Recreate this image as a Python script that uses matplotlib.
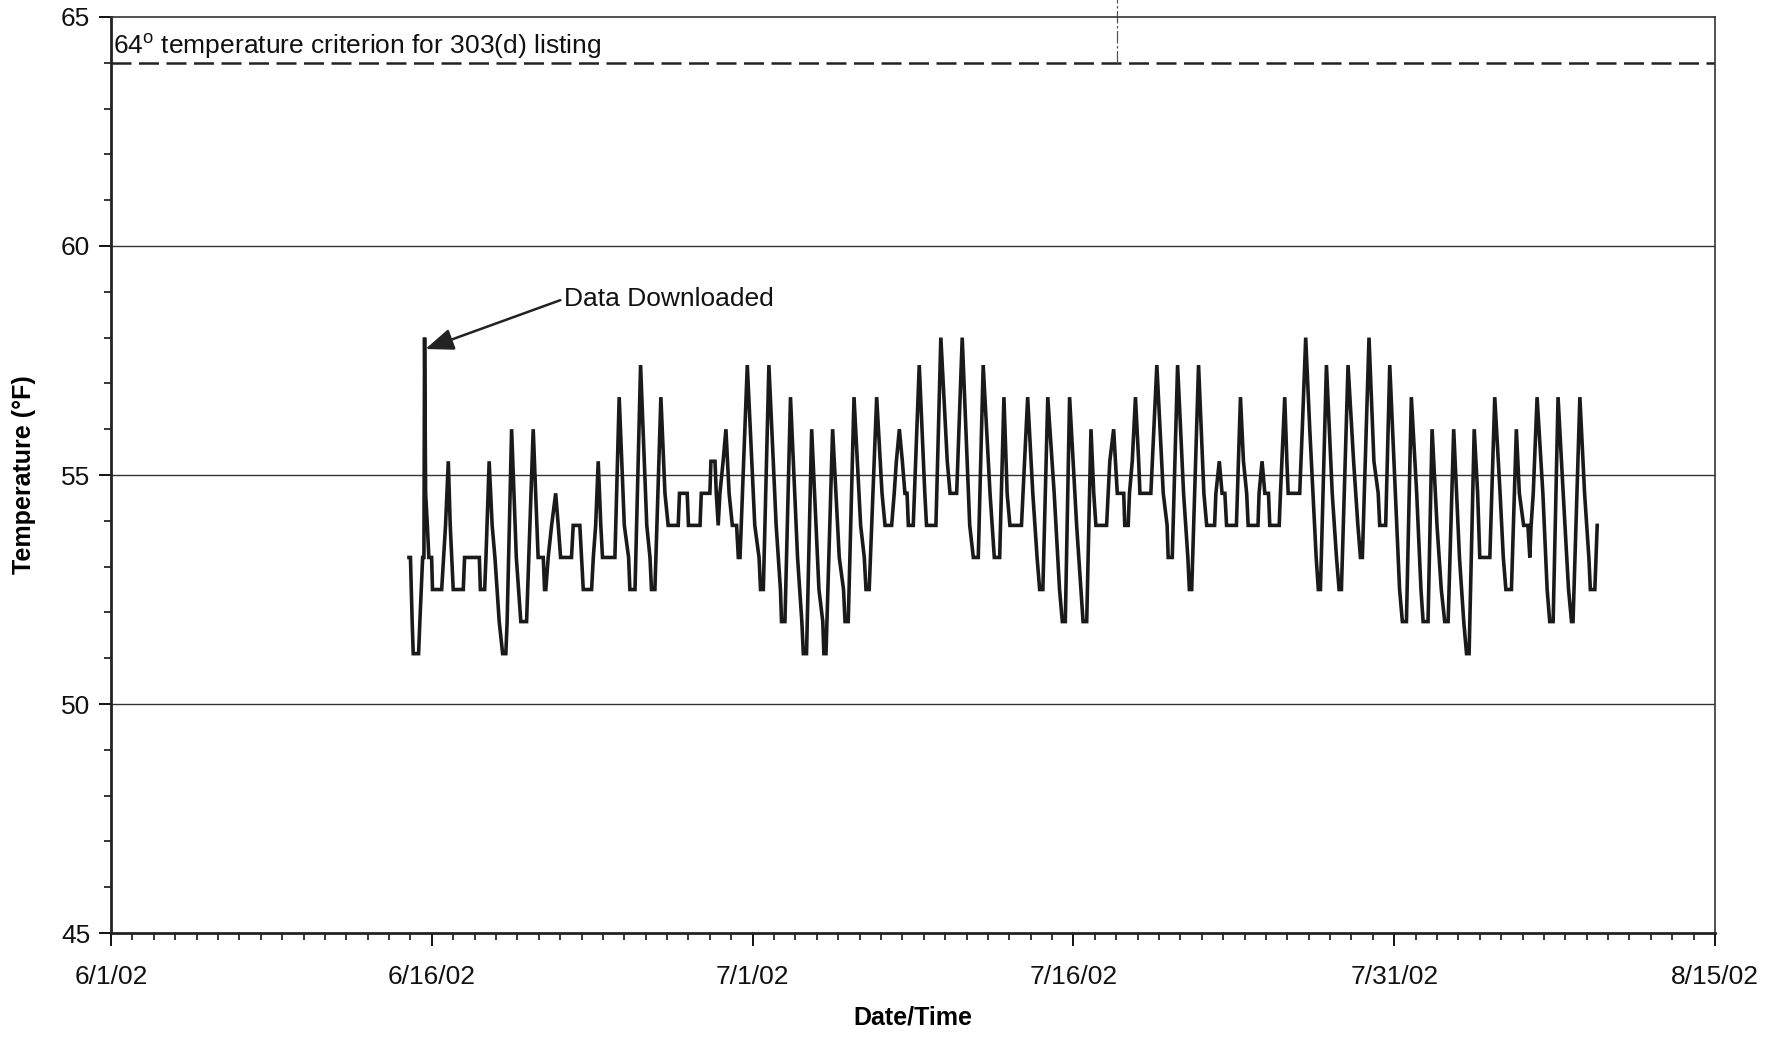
import matplotlib
matplotlib.use("Agg")
import matplotlib.pyplot as plt
import matplotlib.dates as mdates
from matplotlib.ticker import MultipleLocator, FuncFormatter, FixedLocator
from datetime import datetime, timedelta

# ---------------- data ----------------
START = datetime(2002, 6, 1)

# turning points of the logged temperature trace: days after 6/1/02, temperature (deg F)
day_offset = [
    13.93, 14.00, 14.08, 14.13, 14.38, 14.44, 14.57, 14.63, 14.66, 14.71, 14.79, 14.86,
    14.99, 15.03, 15.46, 15.55, 15.64, 15.77, 15.86, 15.93, 16.00, 16.47, 16.53, 17.22,
    17.27, 17.47, 17.53, 17.68, 17.82, 17.95, 18.15, 18.31, 18.46, 18.52, 18.73, 18.95,
    19.16, 19.43, 19.74, 19.97, 20.21, 20.27, 20.33, 20.44, 20.60, 20.79, 20.91, 21.02,
    21.53, 21.61, 21.92, 22.00, 22.08, 22.47, 22.55, 22.66, 22.78, 22.90, 22.98, 23.56,
    23.76, 24.00, 24.20, 24.26, 24.50, 24.76, 25.05, 25.20, 25.27, 25.43, 25.71, 25.90,
    26.05, 26.52, 26.58, 26.94, 27.00, 27.54, 27.60, 28.00, 28.05, 28.24, 28.30, 28.39,
    28.47, 28.62, 28.75, 28.90, 29.05, 29.25, 29.33, 29.41, 29.75, 30.10, 30.30, 30.37,
    30.50, 30.76, 31.10, 31.30, 31.35, 31.51, 31.77, 32.10, 32.30, 32.37, 32.52, 32.76,
    33.10, 33.28, 33.33, 33.43, 33.74, 34.05, 34.25, 34.32, 34.47, 34.74, 35.05, 35.22,
    35.30, 35.45, 35.80, 36.05, 36.19, 36.50, 36.62, 36.72, 36.86, 37.00, 37.12, 37.22,
    37.28, 37.51, 37.79, 38.05, 38.13, 38.57, 38.80, 39.10, 39.23, 39.54, 39.80, 40.15,
    40.32, 40.55, 40.78, 41.10, 41.30, 41.55, 41.75, 41.90, 42.03, 42.57, 42.86, 43.10,
    43.30, 43.42, 43.57, 43.80, 44.10, 44.35, 44.48, 44.62, 44.82, 45.15, 45.35, 45.45,
    45.62, 45.82, 45.95, 46.05, 46.55, 46.70, 46.88, 47.05, 47.35, 47.40, 47.56, 47.62,
    47.75, 47.90, 48.05, 48.11, 48.62, 48.90, 49.20, 49.38, 49.43, 49.62, 49.87, 50.15,
    50.35, 50.42, 50.53, 50.85, 51.10, 51.23, 51.60, 51.66, 51.82, 51.95, 52.08, 52.16,
    52.62, 52.81, 52.95, 53.10, 53.17, 53.63, 53.68, 53.82, 53.95, 54.12, 54.18, 54.62,
    54.68, 54.88, 54.98, 55.04, 55.58, 55.70, 55.86, 56.05, 56.35, 56.45, 56.55, 56.83,
    57.10, 57.30, 57.42, 57.53, 57.84, 58.10, 58.30, 58.42, 58.51, 58.82, 59.05, 59.25,
    59.32, 59.60, 59.79, 60.05, 60.25, 60.38, 60.57, 60.80, 61.05, 61.25, 61.35, 61.58,
    61.77, 62.00, 62.20, 62.36, 62.52, 62.78, 63.05, 63.25, 63.38, 63.50, 63.74, 63.90,
    64.00, 64.47, 64.70, 64.95, 65.10, 65.22, 65.48, 65.71, 65.85, 66.05, 66.25, 66.34,
    66.40, 66.50, 66.68, 66.95, 67.15, 67.27, 67.43, 67.66, 67.90, 68.15, 68.29, 68.36,
    68.68, 68.90, 69.10, 69.17, 69.38, 69.49,
]
temp_f = [
    53.2, 53.2, 51.8, 51.1, 51.1, 51.8, 53.2, 53.2, 58.0, 54.6, 53.9, 53.2,
    53.2, 52.5, 52.5, 53.2, 53.9, 55.3, 53.9, 53.2, 52.5, 52.5, 53.2, 53.2,
    52.5, 52.5, 53.2, 55.3, 53.9, 53.2, 51.8, 51.1, 51.1, 51.8, 56.0, 53.2,
    51.8, 51.8, 56.0, 53.2, 53.2, 52.5, 52.5, 53.2, 53.9, 54.6, 53.9, 53.2,
    53.2, 53.9, 53.9, 53.2, 52.5, 52.5, 53.2, 53.9, 55.3, 53.9, 53.2, 53.2,
    56.7, 53.9, 53.2, 52.5, 52.5, 57.4, 53.9, 53.2, 52.5, 52.5, 56.7, 54.6,
    53.9, 53.9, 54.6, 54.6, 53.9, 53.9, 54.6, 54.6, 55.3, 55.3, 54.6, 53.9,
    54.6, 55.3, 56.0, 54.6, 53.9, 53.9, 53.2, 53.2, 57.4, 53.9, 53.2, 52.5,
    52.5, 57.4, 53.9, 52.5, 51.8, 51.8, 56.7, 53.2, 51.8, 51.1, 51.1, 56.0,
    52.5, 51.8, 51.1, 51.1, 56.0, 53.2, 52.5, 51.8, 51.8, 56.7, 53.9, 53.2,
    52.5, 52.5, 56.7, 54.6, 53.9, 53.9, 54.6, 55.3, 56.0, 55.3, 54.6, 54.6,
    53.9, 53.9, 57.4, 54.6, 53.9, 53.9, 58.0, 55.3, 54.6, 54.6, 58.0, 53.9,
    53.2, 53.2, 57.4, 54.6, 53.2, 53.2, 56.7, 54.6, 53.9, 53.9, 56.7, 54.6,
    53.2, 52.5, 52.5, 56.7, 54.6, 52.5, 51.8, 51.8, 56.7, 53.9, 52.5, 51.8,
    51.8, 56.0, 54.6, 53.9, 53.9, 55.3, 56.0, 54.6, 54.6, 53.9, 53.9, 54.6,
    55.3, 56.7, 55.3, 54.6, 54.6, 57.4, 54.6, 53.9, 53.2, 53.2, 57.4, 54.6,
    53.2, 52.5, 52.5, 57.4, 54.6, 53.9, 53.9, 54.6, 55.3, 54.6, 54.6, 53.9,
    53.9, 56.7, 55.3, 54.6, 53.9, 53.9, 54.6, 55.3, 54.6, 54.6, 53.9, 53.9,
    54.6, 56.7, 55.3, 54.6, 54.6, 56.0, 58.0, 56.0, 53.2, 52.5, 52.5, 57.4,
    54.6, 53.2, 52.5, 52.5, 57.4, 55.3, 53.9, 53.2, 53.2, 58.0, 55.3, 54.6,
    53.9, 53.9, 57.4, 54.6, 52.5, 51.8, 51.8, 56.7, 54.6, 52.5, 51.8, 51.8,
    56.0, 53.9, 52.5, 51.8, 51.8, 56.0, 53.2, 51.8, 51.1, 51.1, 56.0, 54.6,
    53.2, 53.2, 56.7, 54.6, 53.2, 52.5, 52.5, 56.0, 54.6, 53.9, 53.9, 53.2,
    53.9, 54.6, 56.7, 54.6, 52.5, 51.8, 51.8, 56.7, 54.6, 52.5, 51.8, 51.8,
    56.7, 54.6, 53.2, 52.5, 52.5, 53.9,
]

criterion_f = 64
criterion_label = "64$^{\\mathrm{o}}$ temperature criterion for 303(d) listing"
download_day = 14.70        # day offset of the "Data Downloaded" spike
download_label = "Data Downloaded"
x_tick_days = [0, 15, 30, 45, 60, 75]
y_ticks = [45, 50, 55, 60, 65]
marker_day = 47.03          # thin vertical mark above the criterion line

# ---------------- plot ----------------
FONT = ["Liberation Sans", "DejaVu Sans"]
plt.rcParams["font.family"] = FONT
plt.rcParams["mathtext.fontset"] = "custom"
plt.rcParams["mathtext.rm"] = "Liberation Sans"

fig = plt.figure(figsize=(17.71, 10.41), dpi=100)
ax = fig.add_axes([0.0627, 0.1037, 0.9057, 0.8800])

times = [START + timedelta(days=d) for d in day_offset]
ax.plot(times, temp_f, color="#1a1a1a", lw=2.6, solid_joinstyle="miter", zorder=3)

# gridlines
for v in [50, 55, 60]:
    ax.axhline(v, color="#333333", lw=1.0, zorder=1)

# criterion line
ax.axhline(criterion_f, color="#222222", lw=1.8, ls=(0, (8, 3)), zorder=2)
ax.text(START + timedelta(days=0.1), criterion_f + 0.04, criterion_label,
        fontsize=19, ha="left", va="bottom", color="#111111")

# small vertical mark above the criterion line
mday = START + timedelta(days=marker_day)
ax.plot([mday, mday], [criterion_f, 65.4], color="#555555", lw=0.9,
        ls=(0, (10, 2, 2, 2)), clip_on=False, zorder=2)

# annotation
ax.annotate(download_label,
            xy=(START + timedelta(days=download_day), 57.75),
            xytext=(START + timedelta(days=21.2), 58.85),
            fontsize=19, ha="left", va="center", color="#111111",
            arrowprops=dict(arrowstyle="-|>,head_length=0.9,head_width=0.35",
                            color="#222222", lw=1.8, shrinkA=1, shrinkB=0,
                            relpos=(0.0, 0.5)))

# axes
x0 = START
x1 = START + timedelta(days=75)
ax.set_xlim(x0, x1)
ax.set_ylim(45, 65)

ax.xaxis.set_major_locator(FixedLocator([mdates.date2num(START + timedelta(days=d)) for d in x_tick_days]))
ax.xaxis.set_minor_locator(mdates.DayLocator())
ax.xaxis.set_major_formatter(FuncFormatter(
    lambda x, pos: (lambda d: f"{d.month}/{d.day}/{d.strftime('%y')}")(mdates.num2date(x))))
ax.yaxis.set_major_locator(FixedLocator(y_ticks))
ax.yaxis.set_minor_locator(MultipleLocator(1))

ax.tick_params(axis="both", which="major", direction="out", length=9, width=1.4,
               labelsize=19, colors="#111111")
ax.tick_params(axis="both", which="minor", direction="out", length=5, width=1.1)
ax.tick_params(axis="x", which="major", pad=14)
ax.tick_params(axis="y", which="major", pad=6)

for s in ["left", "bottom"]:
    ax.spines[s].set_linewidth(2.0)
    ax.spines[s].set_color("#222222")
for s in ["top", "right"]:
    ax.spines[s].set_linewidth(1.2)
    ax.spines[s].set_color("#333333")

ax.set_xlabel("Date/Time", fontsize=18, fontweight="bold", labelpad=12)
ax.set_ylabel("Temperature (\u00b0F)", fontsize=18, fontweight="bold", labelpad=18)

fig.savefig("out.png", dpi=100, facecolor="white")
